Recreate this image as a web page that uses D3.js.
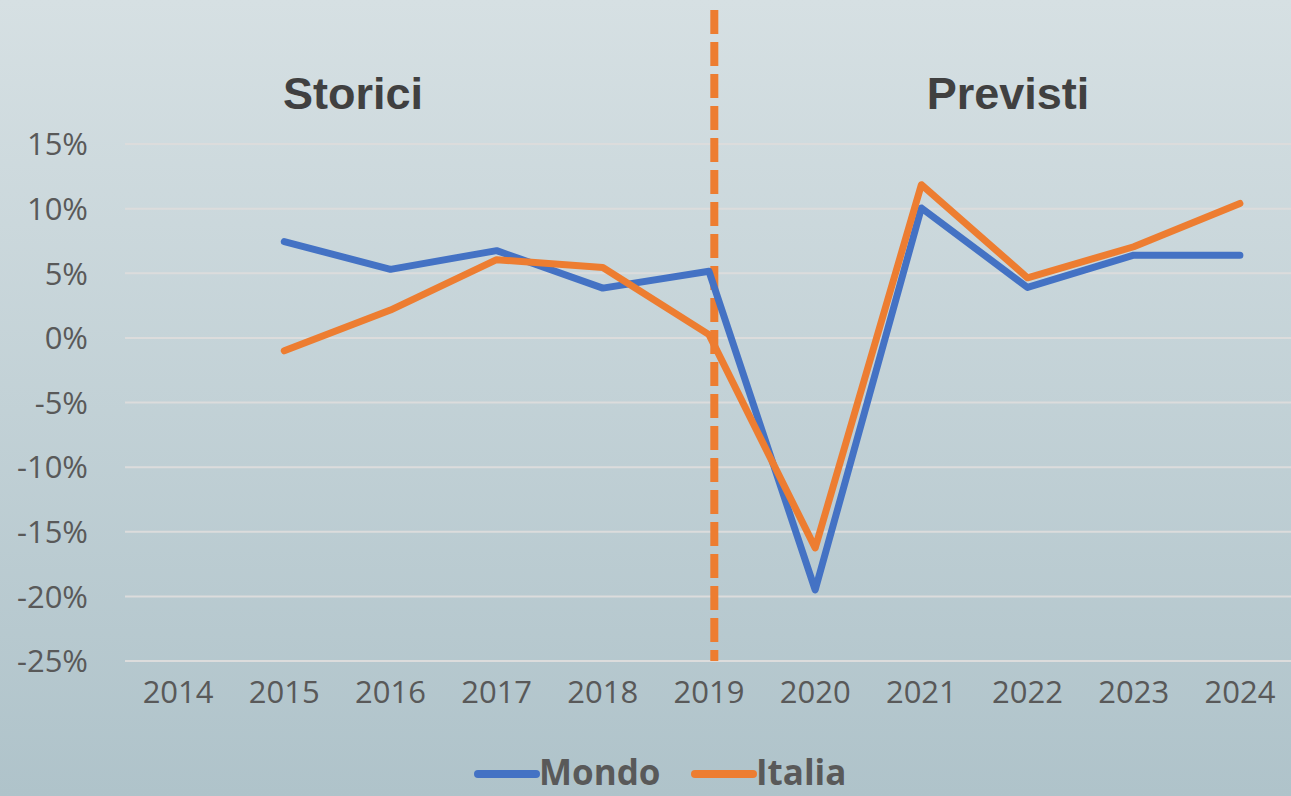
<!DOCTYPE html>
<html>
<head>
<meta charset="utf-8">
<script src="https://cdn.jsdelivr.net/npm/d3@7"></script>
<style>
  html, body { margin: 0; padding: 0; overflow: hidden; }
  #wrapper { width: 1291px; height: 796px; }
</style>
</head>
<body>
<div id="wrapper"></div>
<script>
const years = ["2014", "2015", "2016", "2017", "2018", "2019", "2020", "2021", "2022", "2023", "2024"];
const mondo = [null, 7.45, 5.3, 6.75, 3.85, 5.15, -19.5, 10.05, 3.9, 6.4, 6.4];
const italia = [null, -1.0, 2.15, 6.05, 5.45, 0.25, -16.25, 11.85, 4.65, 7.05, 10.4];
const yTicks = [15, 10, 5, 0, -5, -10, -15, -20, -25];
const seriesNames = ["Mondo", "Italia"];
const periodLabels = ["Storici", "Previsti"];

function drawChart() {
    const dimensions = {
        width: 1291,
        height: 796,
        margin: { top: 144, right: -2, bottom: 135, left: 125 }
    };
    dimensions.boundedwidth = dimensions.width - dimensions.margin.left - dimensions.margin.right;
    dimensions.boundedheight = dimensions.height - dimensions.margin.top - dimensions.margin.bottom;

    const wrapper = d3.select("#wrapper")
        .append("svg")
        .attr("width", dimensions.width)
        .attr("height", dimensions.height);

    // background gradient
    const defs = wrapper.append("defs");
    const grad = defs.append("linearGradient")
        .attr("id", "bg")
        .attr("x1", 0).attr("y1", 0).attr("x2", 0).attr("y2", 1);
    grad.append("stop").attr("offset", "0%").attr("stop-color", "#d6e0e3");
    grad.append("stop").attr("offset", "100%").attr("stop-color", "#afc3ca");

    wrapper.append("rect")
        .attr("width", dimensions.width)
        .attr("height", dimensions.height)
        .attr("fill", "url(#bg)");

    const bounds = wrapper.append("g")
        .attr("transform", `translate(${dimensions.margin.left}, ${dimensions.margin.top})`);

    const xScale = d3.scaleBand()
        .domain(years)
        .range([0, dimensions.boundedwidth])
        .padding(0);

    const yScale = d3.scaleLinear()
        .domain([-25, 15])
        .range([dimensions.boundedheight, 0]);

    const xCenter = d => xScale(d) + xScale.bandwidth() / 2;

    // gridlines
    bounds.append("g")
        .selectAll("line")
        .data(yTicks)
        .join("line")
        .attr("x1", 0)
        .attr("x2", dimensions.boundedwidth)
        .attr("y1", d => yScale(d))
        .attr("y2", d => yScale(d))
        .attr("stroke", "#dcdcdc")
        .attr("stroke-width", 2);

    // y axis labels
    const yAxis = d3.axisLeft(yScale)
        .tickValues(yTicks)
        .tickFormat(d => d + "%")
        .tickSize(0)
        .tickPadding(37);
    const yAxisG = bounds.append("g").call(yAxis);
    yAxisG.select(".domain").remove();
    yAxisG.selectAll("text")
        .attr("font-family", "'Open Sans', sans-serif")
        .attr("font-size", 31)
        .attr("fill", "#595959")
        .attr("dy", "0.35em");

    // x axis labels
    const xAxis = d3.axisBottom(xScale).tickSize(0).tickPadding(20);
    const xAxisG = bounds.append("g")
        .attr("transform", `translate(0, ${dimensions.boundedheight})`)
        .call(xAxis);
    xAxisG.select(".domain").remove();
    xAxisG.selectAll("text")
        .attr("font-family", "'Open Sans', sans-serif")
        .attr("font-size", 31)
        .attr("fill", "#595959");

    // divider between historic and forecast
    const dividerX = xScale("2019") + xScale.bandwidth() * 0.55;
    bounds.append("line")
        .attr("x1", dividerX)
        .attr("x2", dividerX)
        .attr("y1", 10 - dimensions.margin.top)
        .attr("y2", dimensions.boundedheight)
        .attr("stroke", "#ed7d31")
        .attr("stroke-width", 8)
        .attr("stroke-dasharray", "24 8");

    // lines
    const colors = ["#4472c4", "#ed7d31"];
    const seriesData = [mondo, italia];
    const lineGenerator = d3.line()
        .defined(d => d.v !== null)
        .x(d => xCenter(d.year))
        .y(d => yScale(d.v));

    seriesData.forEach((values, i) => {
        bounds.append("path")
            .datum(years.map((y, j) => ({ year: y, v: values[j] })))
            .attr("d", lineGenerator)
            .attr("fill", "none")
            .attr("stroke", colors[i])
            .attr("stroke-width", 7)
            .attr("stroke-linejoin", "round")
            .attr("stroke-linecap", "round");
    });

    // period titles
    const titleX = [353, 1008];
    wrapper.selectAll(".period")
        .data(periodLabels)
        .join("text")
        .attr("class", "period")
        .attr("x", (d, i) => titleX[i])
        .attr("y", 109)
        .attr("text-anchor", "middle")
        .attr("font-family", "'Liberation Sans', Arial, sans-serif")
        .attr("font-weight", "bold")
        .attr("font-size", 45)
        .attr("fill", "#404040")
        .text(d => d);

    // legend
    const legend = wrapper.append("g");
    const legendX = [478, 695];
    seriesNames.forEach((name, i) => {
        legend.append("line")
            .attr("x1", legendX[i])
            .attr("x2", legendX[i] + 58)
            .attr("y1", 774)
            .attr("y2", 774)
            .attr("stroke", colors[i])
            .attr("stroke-width", 8)
            .attr("stroke-linecap", "round");
        legend.append("text")
            .attr("x", legendX[i] + 61)
            .attr("y", 785)
            .attr("font-family", "'Open Sans', sans-serif")
            .attr("font-weight", "bold")
            .attr("font-size", 35)
            .attr("fill", "#595959")
            .text(name);
    });
}

drawChart();
</script>
</body>
</html>
